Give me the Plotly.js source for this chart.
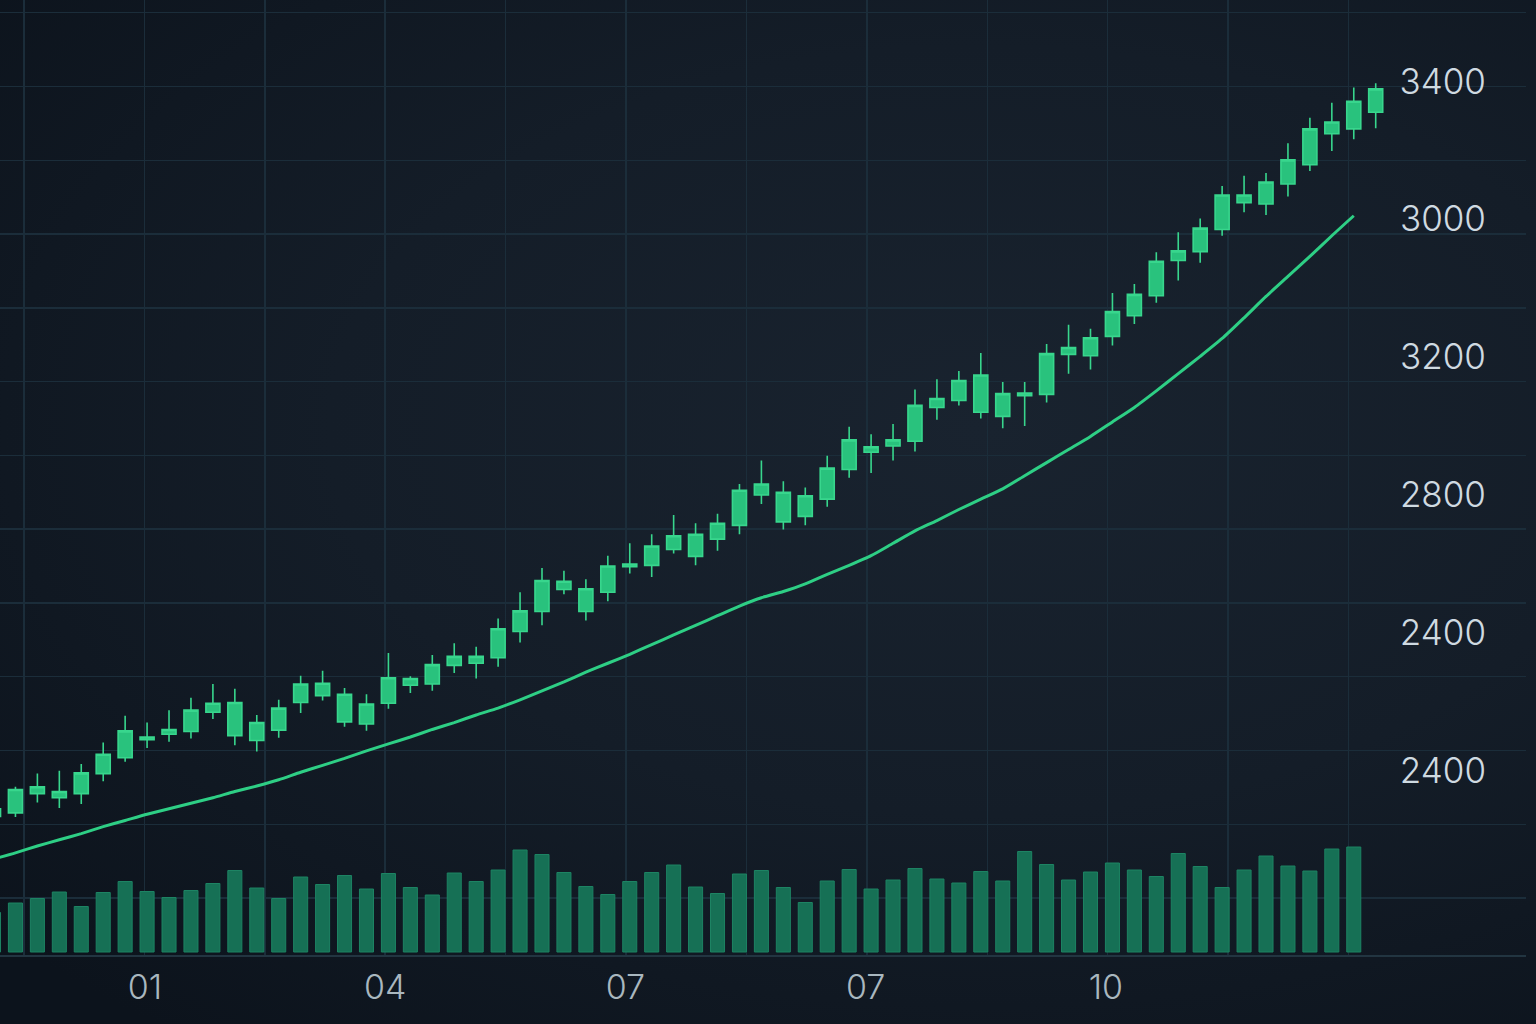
<!DOCTYPE html>
<html>
<head>
<meta charset="utf-8">
<script src="https://cdn.plot.ly/plotly-3.0.1.min.js"></script>
<style>
  html, body { margin: 0; padding: 0; width: 1536px; height: 1024px; overflow: hidden; }
  body { background: radial-gradient(ellipse 85% 75% at 64% 42%, #19232f 0%, #141d28 50%, #0c131c 100%); }
  #chart { width: 1536px; height: 1024px; }
</style>
</head>
<body>
<div id="chart"></div>
<script>
// ---- data ----
const openPx  = [2334,2339,2367,2361,2367,2396,2419,2445,2453,2457,2485,2451,2444,2459,2499,2509,2471,2468,2498,2524,2526,2553,2556,2564,2602,2631,2663,2631,2659,2696,2698,2721,2711,2736,2756,2800,2761,2769,2794,2837,2862,2871,2878,2927,2937,2920,2914,2944,2946,3004,3002,3030,3060,3089,3140,3153,3185,3224,3222,3251,3279,3324,3331,3355];
const highPx  = [2352,2377,2396,2400,2410,2441,2480,2470,2488,2506,2526,2519,2481,2503,2538,2545,2520,2511,2571,2537,2568,2585,2580,2621,2659,2694,2690,2678,2712,2730,2743,2771,2759,2773,2816,2850,2820,2811,2857,2899,2888,2903,2953,2968,2980,3006,2964,2964,3019,3047,3041,3093,3106,3152,3181,3201,3248,3263,3267,3310,3347,3369,3391,3397];
const lowPx   = [2329,2333,2354,2346,2352,2385,2413,2433,2442,2447,2475,2437,2428,2448,2484,2502,2464,2458,2490,2513,2516,2542,2534,2551,2586,2611,2656,2618,2646,2686,2681,2715,2698,2719,2743,2787,2750,2756,2783,2825,2832,2850,2863,2909,2930,2911,2897,2900,2934,2976,2982,3017,3048,3079,3111,3137,3176,3210,3206,3233,3270,3299,3316,3332];
const closePx = [2345,2373,2377,2370,2397,2424,2458,2449,2460,2488,2498,2499,2470,2491,2526,2527,2511,2497,2535,2534,2554,2566,2566,2606,2632,2676,2675,2664,2697,2700,2726,2741,2743,2759,2807,2816,2804,2799,2839,2880,2870,2880,2930,2940,2966,2974,2947,2948,3005,3014,3028,3066,3091,3139,3154,3187,3235,3235,3254,3286,3331,3341,3371,3389];
const volume  = [79,98,107,120,91,119,141,121,109,123,137,163,128,107,150,135,153,126,157,129,114,158,141,164,204,195,159,131,115,141,159,174,130,117,156,163,129,99,142,165,126,144,167,146,138,161,142,201,175,144,160,178,164,151,197,171,129,164,192,172,162,206,210];
const movingAvg = [2272,2281,2291,2300,2309,2319,2328,2337,2345,2353,2361,2370,2378,2387,2398,2408,2418,2429,2439,2449,2460,2470,2481,2491,2503,2516,2529,2543,2556,2569,2583,2597,2611,2625,2639,2651,2660,2671,2685,2698,2712,2730,2748,2763,2779,2794,2809,2828,2847,2866,2885,2906,2927,2951,2976,3001,3027,3057,3088,3117,3146,3176,3205];
const xTickLabels = ['01','04','07','07','10'];
const xTickPos    = [6.9, 17.85, 28.8, 39.75, 50.7];
const yTickLabels = ['3400','3000','3200','2800','2400','2400'];
const yTickPos    = [3400, 3200, 3000, 2800, 2600, 2400];

// ---- traces ----
const idx = n => Array.from({length: n}, (_, i) => i);
const gridColor = '#1b2d3a';

const volTrace = {
  type: 'bar', x: idx(volume.length), y: volume, yaxis: 'y2',
  width: 0.64,
  marker: { color: '#167055', line: { color: '#1d8363', width: 1 } },
  hoverinfo: 'skip'
};
const maTrace = {
  type: 'scatter', mode: 'lines', x: idx(movingAvg.length), y: movingAvg,
  line: { color: '#2ecf85', width: 3, shape: 'spline', smoothing: 0.6 },
  hoverinfo: 'skip'
};
const candleTrace = {
  type: 'candlestick', x: idx(openPx.length),
  open: openPx, high: highPx, low: lowPx, close: closePx,
  increasing: { line: { color: '#38d68d', width: 1.6 }, fillcolor: '#29c27d' },
  decreasing: { line: { color: '#38d68d', width: 1.6 }, fillcolor: '#29c27d' },
  whiskerwidth: 0,
  hoverinfo: 'skip'
};

const layout = {
  width: 1536, height: 1024,
  margin: { l: 0, r: 10, t: 0, b: 69, pad: 0 },
  paper_bgcolor: 'rgba(0,0,0,0)',
  plot_bgcolor: 'rgba(0,0,0,0)',
  showlegend: false,
  boxgap: 0.36, boxgroupgap: 0,
  font: { family: 'Inter, "Noto Sans", sans-serif' },
  xaxis: {
    range: [0.296, 69.85],
    rangeslider: { visible: false },
    tickmode: 'array', tickvals: xTickPos, ticktext: xTickLabels,
    tickfont: { size: 34, color: '#a9b7bf', family: 'Inter, "Noto Sans", sans-serif', weight: 300 },
    ticks: '', ticklabelstandoff: 2,
    showgrid: false, zeroline: false,
    showline: true, linecolor: '#223541', linewidth: 1.5,
    minor: { tickmode: 'linear', tick0: 1.39, dtick: 5.488, showgrid: true, gridcolor: gridColor, gridwidth: 1.5, ticks: '' },
    fixedrange: true
  },
  yaxis: {
    range: [2132.9, 3517.9],
    side: 'right',
    tickmode: 'array', tickvals: yTickPos, ticktext: yTickLabels,
    tickfont: { size: 35, color: '#cfdae1', family: 'Inter, "Noto Sans", sans-serif', weight: 300 },
    ticklabelposition: 'inside', ticks: '', ticklabelstandoff: 37,
    showgrid: false, zeroline: false, showline: false,
    minor: { tickmode: 'linear', tick0: 3499.5, dtick: 107.0, showgrid: true, gridcolor: gridColor, gridwidth: 1.5, ticks: '' },
    fixedrange: true
  },
  yaxis2: {
    overlaying: 'y', side: 'left',
    range: [-6, 1904],
    visible: false, showgrid: false, zeroline: false,
    fixedrange: true
  }
};

Plotly.newPlot('chart', [volTrace, maTrace, candleTrace], layout, { displayModeBar: false, staticPlot: true });
</script>
</body>
</html>
